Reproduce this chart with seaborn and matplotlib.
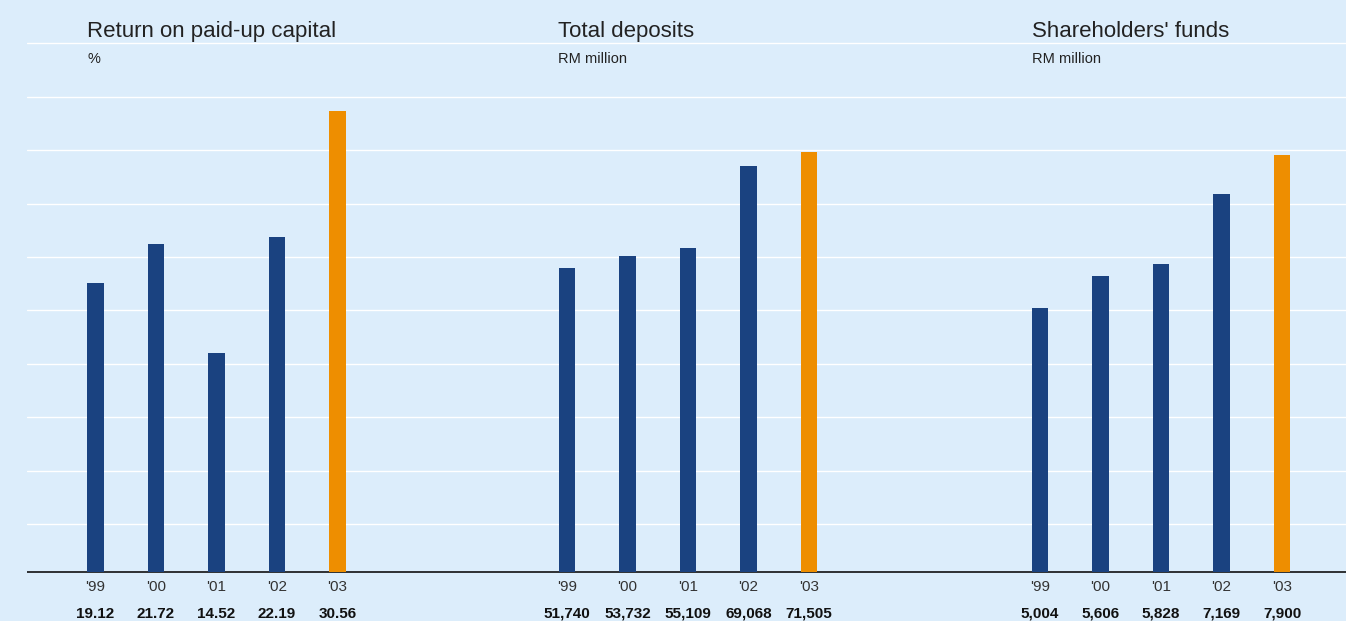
import matplotlib
matplotlib.use("Agg")
import matplotlib.pyplot as plt
import seaborn as sns
import pandas as pd

# ---- data ----
years = ["'99", "'00", "'01", "'02", "'03"]
return_on_capital = [19.12, 21.72, 14.52, 22.19, 30.56]
total_deposits = [51740, 53732, 55109, 69068, 71505]
shareholders_funds = [5004, 5606, 5828, 7169, 7900]

titles = ["Return on paid-up capital", "Total deposits", "Shareholders' funds"]
units = ["%", "RM million", "RM million"]
value_labels = [
    ["19.12", "21.72", "14.52", "22.19", "30.56"],
    ["51,740", "53,732", "55,109", "69,068", "71,505"],
    ["5,004", "5,606", "5,828", "7,169", "7,900"],
]
series = [return_on_capital, total_deposits, shareholders_funds]
y_max = [37.88, 97360, 10840]

# ---- style ----
BG = "#dcedfb"
NAVY = "#1a4280"
ORANGE = "#ee8e00"
TEXT = "#222222"

sns.set_style("white")
plt.rcParams["font.family"] = ["Liberation Sans", "DejaVu Sans"]

W, H = 1346, 621
fig = plt.figure(figsize=(W / 100, H / 100), dpi=100, facecolor=BG)

# background strip with horizontal rules and the common baseline
bg = fig.add_axes([27 / W, 0, 1 - 27 / W, 1])
bg.set_facecolor(BG)
bg.set_xlim(0, 1)
bg.set_ylim(H, 0)
rules = [43.3 + 53.42 * k for k in range(10)]
for yy in rules:
    bg.axhline(yy, color="white", lw=1.0, zorder=0)
bg.axhline(572, color="#111111", lw=1.2, zorder=3)
bg.axis("off")

base = 572
panel_centers = [95.5, 567.0, 1040.0]
step = 60.5

for i in range(3):
    left = panel_centers[i] - step / 2
    ax = fig.add_axes([left / W, (H - base) / H, 5 * step / W, base / H])
    ax.set_facecolor("none")
    df = pd.DataFrame({"year": years, "value": series[i]})
    palette = {y: NAVY for y in years}
    palette[years[-1]] = ORANGE
    sns.barplot(data=df, x="year", y="value", hue="year", palette=palette,
                width=0.28, saturation=1, legend=False, ax=ax, zorder=2,
                linewidth=0, edgecolor="none")
    ax.set_xlim(-0.5, 4.5)
    ax.set_ylim(0, y_max[i])
    ax.set_xlabel("")
    ax.set_ylabel("")
    ax.set_yticks([])
    ax.tick_params(axis="x", length=0, pad=6, labelsize=11, labelcolor="#333333")
    for s in ax.spines.values():
        s.set_visible(False)

    # values under the year labels
    tr = matplotlib.transforms.blended_transform_factory(ax.transData, fig.transFigure)
    for k, lab in enumerate(value_labels[i]):
        ax.text(k, (H - 607) / H, lab, transform=tr, ha="center", va="top",
                fontsize=11, fontweight="bold", color="#111111")

    # panel heading and unit
    x0 = (panel_centers[i] - 8.5) / W
    fig.text(x0, (H - 37) / H, titles[i], ha="left", va="baseline",
             fontsize=16, color=TEXT)
    fig.text(x0, (H - 63) / H, units[i], ha="left", va="baseline",
             fontsize=10.5, color=TEXT)

fig.savefig("out.png", dpi=100, facecolor=BG)
